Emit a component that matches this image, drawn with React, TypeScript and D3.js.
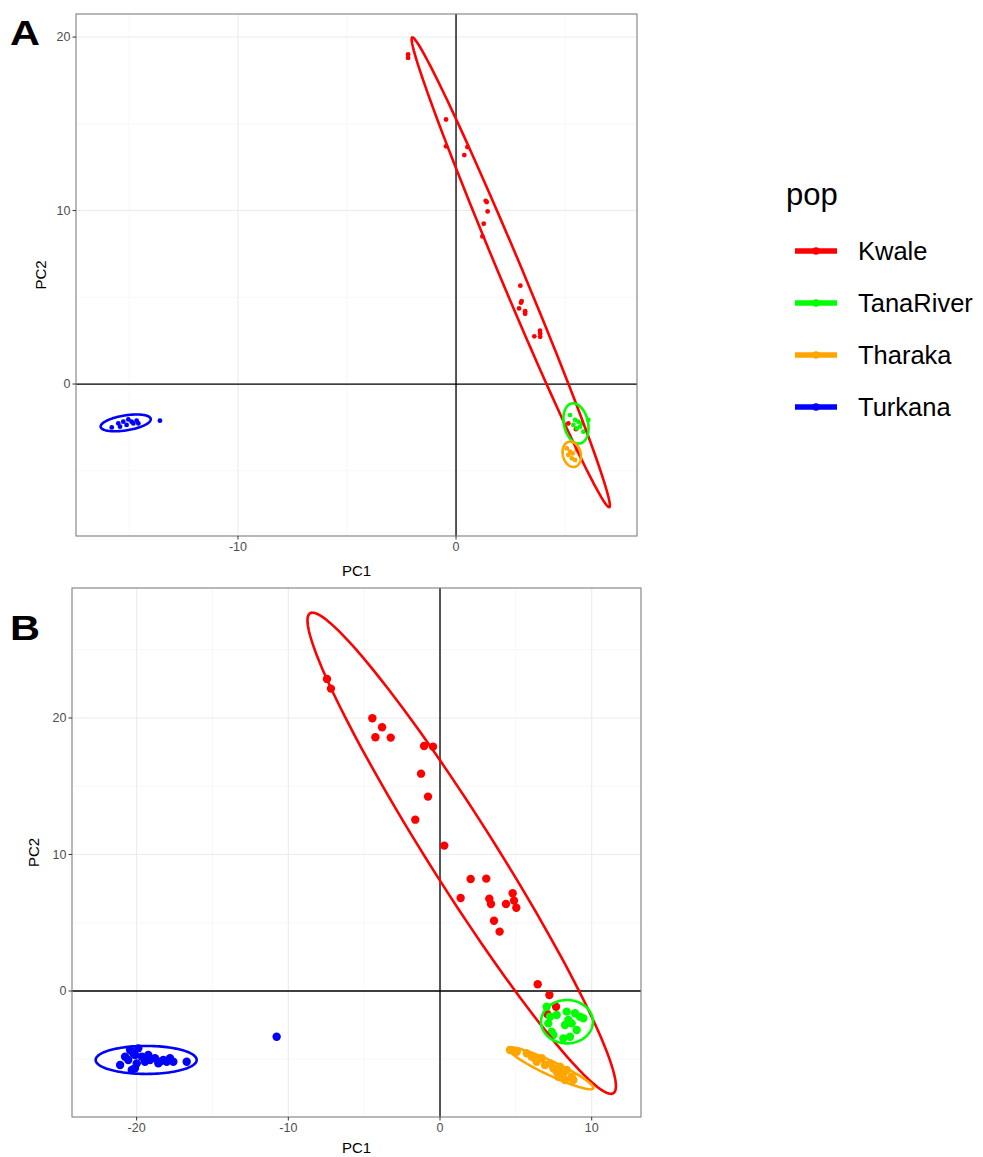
import React from 'react';
import * as d3 from 'd3';

// ---------- DATA ----------
const pops = ['Kwale', 'TanaRiver', 'Tharaka', 'Turkana'];
const popColors = ['#FF0000', '#00FF00', '#FFA500', '#0000FF'];

// Panel A points [PC1, PC2]
const kwaleA: [number, number][] = [
  [-2.2, 19.0], [-2.2, 18.8], [-0.46, 15.25], [-0.46, 13.7], [0.52, 13.66], [0.38, 13.2],
  [1.36, 10.56], [1.41, 10.49], [1.45, 9.95], [1.27, 9.24], [1.21, 8.51],
  [2.95, 5.67], [3.01, 4.78], [2.98, 4.69], [2.89, 4.36], [3.17, 4.2], [3.17, 4.05],
  [3.59, 2.75], [3.85, 3.07], [3.86, 2.92], [3.86, 2.72], [5.15, -2.27], [5.5, -2.6],
];
const tanaA: [number, number][] = [
  [5.23, -1.79], [5.46, -2.07], [5.61, -2.17], [5.69, -2.46], [5.54, -2.56],
  [5.84, -2.75], [6.07, -2.07], [5.38, -2.36], [5.77, -2.27],
];
const tharakaA: [number, number][] = [
  [5.08, -3.71], [5.23, -3.9], [5.15, -4.09], [5.31, -4.28], [5.46, -4.38], [5.35, -4.0], [5.54, -3.8],
];
const turkanaA: [number, number][] = [
  [-13.58, -2.11], [-15.49, -2.27], [-15.26, -2.17], [-15.03, -2.04], [-14.88, -2.17],
  [-14.65, -2.11], [-14.57, -2.27], [-14.8, -2.27], [-15.41, -2.46], [-15.11, -2.36], [-15.79, -2.5],
];

// Panel B points [PC1, PC2]
const kwaleB: [number, number][] = [
  [-7.45, 22.86], [-7.19, 22.15], [-4.46, 19.98], [-3.82, 19.32], [-4.26, 18.59], [-3.25, 18.56],
  [-1.05, 17.95], [-0.46, 17.9], [-1.25, 15.92], [-0.79, 14.24], [-1.63, 12.55], [0.28, 10.65],
  [2.02, 8.2], [3.05, 8.23], [1.36, 6.81], [3.25, 6.76], [3.36, 6.37], [4.79, 7.16], [4.88, 6.62],
  [4.35, 6.37], [5.03, 6.1], [3.56, 5.15], [3.93, 4.35], [6.44, 0.49], [7.21, -0.29],
  [7.65, -1.15], [7.07, -1.68],
];
const tanaB: [number, number][] = [
  [7.03, -1.15], [7.25, -1.88], [7.14, -2.37], [7.36, -2.98], [7.69, -1.76], [8.35, -1.51],
  [8.46, -2.12], [8.24, -2.49], [8.57, -3.35], [9.01, -2.86], [9.23, -1.88], [9.45, -2.0],
  [8.9, -1.63], [8.68, -2.37], [8.13, -3.47], [7.47, -3.22],
];
const tharakaB: [number, number][] = [
  [4.61, -4.32], [5.06, -4.45], [5.72, -4.57], [6.04, -4.81], [6.37, -5.18], [6.7, -4.93],
  [7.25, -5.3], [7.47, -5.66], [7.69, -5.91], [7.91, -5.55], [8.13, -6.03], [8.35, -5.79],
  [8.68, -6.28], [8.79, -6.52], [8.24, -6.52], [7.8, -6.28], [6.92, -5.42], [6.26, -4.93],
];
const turkanaB: [number, number][] = [
  [-10.77, -3.35], [-21.09, -5.42], [-20.76, -4.81], [-20.43, -4.32], [-20.22, -4.57], [-20.55, -5.05],
  [-19.99, -5.3], [-20.11, -5.66], [-19.89, -4.2], [-19.66, -4.81], [-19.23, -4.69], [-19.12, -5.05],
  [-18.79, -4.93], [-18.57, -5.3], [-18.24, -5.05], [-18.02, -5.18], [-17.8, -4.93], [-17.58, -5.18],
  [-16.7, -5.18], [-20.32, -5.79], [-20.11, -4.69], [-19.45, -5.18], [-18.46, -5.18],
];

// 95% ellipses: centre (cx, cy) and two conjugate half-axis vectors (ax, ay), (bx, by) in data units
const ellipsesA = [
  { pop: 'Kwale', cx: 2.51, cy: 6.44, ax: -4.52, ay: 13.54, bx: 0.486, by: 0.257 },
  { pop: 'TanaRiver', cx: 5.5, cy: -2.27, ax: -0.2, ay: 1.15, bx: 0.54, by: 0.145 },
  { pop: 'Tharaka', cx: 5.31, cy: -4.05, ax: -0.14, ay: 0.72, bx: 0.4, by: 0.12 },
  { pop: 'Turkana', cx: -15.15, cy: -2.24, ax: 1.147, ay: 0.23, bx: 0.055, by: -0.427 },
];
const ellipsesB = [
  { pop: 'Kwale', cx: 1.43, cy: 10.09, ax: -10.0, ay: 17.58, bx: 1.84, by: 1.29 },
  { pop: 'TanaRiver', cx: 8.37, cy: -2.25, ax: 1.71, ay: 0, bx: 0, by: -1.59 },
  { pop: 'Tharaka', cx: 7.3, cy: -5.66, ax: 2.8, ay: -1.465, bx: 0.196, by: 0.464 },
  { pop: 'Turkana', cx: -19.37, cy: -5.05, ax: 3.33, ay: 0, bx: 0, by: -1.026 },
];

const xTicksA = [-10, 0];
const yTicksA = [0, 10, 20];
const xMinorA = [-15, -5, 5];
const yMinorA = [-5, 5, 15];
const xTicksB = [-20, -10, 0, 10];
const yTicksB = [0, 10, 20];
const xMinorB = [-15, -5, 5];
const yMinorB = [-5, 5, 15, 25];

const xDomainA: [number, number] = [-17.43, 8.3];
const yDomainA: [number, number] = [-8.76, 21.33];
const xDomainB: [number, number] = [-24.26, 13.25];
const yDomainB: [number, number] = [-9.23, 29.52];

const FONT = "'Liberation Sans', Arial, sans-serif";

type Ell = { pop: string; cx: number; cy: number; ax: number; ay: number; bx: number; by: number };

function Panel(props: {
  left: number; right: number; top: number; bottom: number;
  xDomain: [number, number]; yDomain: [number, number];
  xTicks: number[]; yTicks: number[]; xMinor: number[]; yMinor: number[];
  series: [number, number][][]; ellipses: Ell[]; r: number; label: string;
  yTitleX: number; xTitleY: number;
}) {
  const { left, right, top, bottom } = props;
  const x = d3.scaleLinear().domain(props.xDomain).range([left, right]);
  const y = d3.scaleLinear().domain(props.yDomain).range([bottom, top]);
  const line = d3.line<[number, number]>().x(d => x(d[0])).y(d => y(d[1])).curve(d3.curveLinearClosed);
  const ts = d3.range(0, 120).map(i => (i / 120) * Math.PI * 2);
  const clipId = 'clip' + props.label;
  return (
    <g>
      <defs>
        <clipPath id={clipId}>
          <rect x={left} y={top} width={right - left} height={bottom - top} />
        </clipPath>
      </defs>
      <rect x={left} y={top} width={right - left} height={bottom - top} fill="#fff" />
      {props.xMinor.map(v => (
        <line key={'xm' + v} x1={x(v)} x2={x(v)} y1={top} y2={bottom} stroke="#f2f2f2" strokeWidth={0.6} />
      ))}
      {props.yMinor.map(v => (
        <line key={'ym' + v} y1={y(v)} y2={y(v)} x1={left} x2={right} stroke="#f2f2f2" strokeWidth={0.6} />
      ))}
      {props.xTicks.map(v => (
        <line key={'xg' + v} x1={x(v)} x2={x(v)} y1={top} y2={bottom} stroke="#ebebeb" strokeWidth={1.1} />
      ))}
      {props.yTicks.map(v => (
        <line key={'yg' + v} y1={y(v)} y2={y(v)} x1={left} x2={right} stroke="#ebebeb" strokeWidth={1.1} />
      ))}
      <line x1={left} x2={right} y1={y(0)} y2={y(0)} stroke="#000" strokeWidth={1.3} />
      <line x1={x(0)} x2={x(0)} y1={top} y2={bottom} stroke="#000" strokeWidth={1.3} />
      <g clipPath={`url(#${clipId})`}>
        {props.series.map((pts, si) =>
          pts.map((p, i) => (
            <circle key={si + '-' + i} cx={x(p[0])} cy={y(p[1])} r={props.r} fill={popColors[si]} />
          ))
        )}
        {props.ellipses.map(e => {
          const ci = pops.indexOf(e.pop);
          const pts = ts.map(t => [
            e.cx + Math.cos(t) * e.ax + Math.sin(t) * e.bx,
            e.cy + Math.cos(t) * e.ay + Math.sin(t) * e.by,
          ] as [number, number]);
          return <path key={e.pop} d={line(pts) || ''} fill="none" stroke={popColors[ci]} strokeWidth={2.6} />;
        })}
      </g>
      <rect x={left} y={top} width={right - left} height={bottom - top} fill="none" stroke="#7f7f7f" strokeWidth={1.1} />
      {props.xTicks.map(v => (
        <g key={'xt' + v}>
          <line x1={x(v)} x2={x(v)} y1={bottom} y2={bottom + 3.5} stroke="#333" strokeWidth={1} />
          <text x={x(v)} y={bottom + 15} textAnchor="middle" fontSize={12.5} fill="#4d4d4d" fontFamily={FONT}>{v}</text>
        </g>
      ))}
      {props.yTicks.map(v => (
        <g key={'yt' + v}>
          <line x1={left - 3.5} x2={left} y1={y(v)} y2={y(v)} stroke="#333" strokeWidth={1} />
          <text x={left - 5.5} y={y(v)} dy="0.35em" textAnchor="end" fontSize={12.5} fill="#4d4d4d" fontFamily={FONT}>{v}</text>
        </g>
      ))}
      <text x={(left + right) / 2} y={props.xTitleY} textAnchor="middle" fontSize={15} fill="#000" fontFamily={FONT}>PC1</text>
      <text transform={`translate(${props.yTitleX},${(top + bottom) / 2}) rotate(-90)`} textAnchor="middle" dy="0.35em" fontSize={15} fill="#000" fontFamily={FONT}>PC2</text>
    </g>
  );
}

export default function App() {
  const legendY = [251, 303, 355, 407];
  return (
    <svg width={983} height={1157} style={{ position: 'absolute', left: 0, top: 0, background: '#fff' }}>
      <rect width={983} height={1157} fill="#fff" />
      <Panel left={76} right={637} top={14} bottom={536} xDomain={xDomainA} yDomain={yDomainA}
        xTicks={xTicksA} yTicks={yTicksA} xMinor={xMinorA} yMinor={yMinorA}
        series={[kwaleA, tanaA, tharakaA, turkanaA]} ellipses={ellipsesA} r={2.4} label="A"
        yTitleX={41} xTitleY={576} />
      <Panel left={72} right={641} top={588} bottom={1117} xDomain={xDomainB} yDomain={yDomainB}
        xTicks={xTicksB} yTicks={yTicksB} xMinor={xMinorB} yMinor={yMinorB}
        series={[kwaleB, tanaB, tharakaB, turkanaB]} ellipses={ellipsesB} r={4.2} label="B"
        yTitleX={34} xTitleY={1153} />
      <text x={10} y={45} fontSize={35} fontWeight="bold" fontFamily={FONT} textLength={30} lengthAdjust="spacingAndGlyphs">A</text>
      <text x={10} y={640} fontSize={35} fontWeight="bold" fontFamily={FONT} textLength={30} lengthAdjust="spacingAndGlyphs">B</text>
      <text x={786} y={205} fontSize={31} fontFamily={FONT} fill="#000">pop</text>
      {pops.map((p, i) => (
        <g key={p}>
          <line x1={795} x2={837} y1={legendY[i]} y2={legendY[i]} stroke={popColors[i]} strokeWidth={5.5} />
          <circle cx={816} cy={legendY[i]} r={3.8} fill={popColors[i]} />
          <text x={858} y={legendY[i]} dy="0.36em" fontSize={25.5} fontFamily={FONT} fill="#000">{p}</text>
        </g>
      ))}
    </svg>
  );
}
